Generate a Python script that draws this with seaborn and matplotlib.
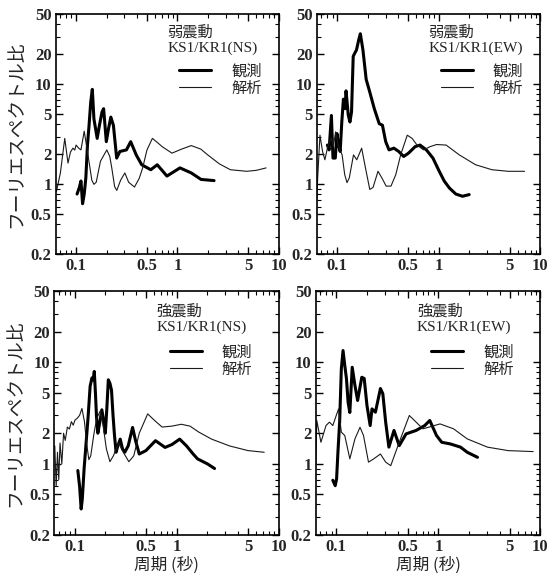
import numpy as np
import pandas as pd
import matplotlib
matplotlib.use('Agg')
import matplotlib.pyplot as plt
import seaborn as sns
from matplotlib.ticker import FixedLocator, FixedFormatter, LogLocator, NullFormatter

# axis ticks
x_ticks = [0.1, 0.5, 1, 5, 10]
x_tick_labels = ['0.1', '0.5', '1', '5', '10']
y_ticks = [0.2, 0.5, 1, 2, 5, 10, 20, 50]
y_tick_labels = ['0.2', '0.5', '1', '2', '5', '10', '20', '50']

panel_titles = ['弱震動\nKS1/KR1(NS)', '弱震動\nKS1/KR1(EW)',
                '強震動\nKS1/KR1(NS)', '強震動\nKS1/KR1(EW)']
series_labels = ['観測', '解析']
x_label = '周期 (秒)'
y_label = 'フーリエスペクトル比'

# weak motion, NS
wns_obs_T = [0.1022, 0.1077, 0.1117, 0.1159, 0.1203, 0.1248, 0.1295, 0.1343, 0.1394, 0.1446,
             0.150, 0.1557, 0.1615, 0.170, 0.1803, 0.187, 0.1987, 0.209, 0.2203, 0.2335,
             0.2515, 0.2706, 0.314, 0.3458, 0.392, 0.444, 0.546, 0.632, 0.788, 1.06,
             1.37, 1.71, 2.3]
wns_obs_A = [0.80, 0.93, 1.08, 0.64, 0.80, 1.16, 2.47, 3.89, 6.6, 8.9,
             4.5, 3.6, 2.88, 3.89, 5.3, 5.7, 2.67, 3.6, 4.7, 3.89,
             1.83, 2.13, 2.21, 2.67, 1.97, 1.57, 1.40, 1.57, 1.21, 1.46,
             1.30, 1.12, 1.09]
wns_ana_T = [0.064, 0.070, 0.0773, 0.0832, 0.088, 0.093, 0.097, 0.100, 0.106, 0.1117,
             0.1203, 0.131, 0.143, 0.150, 0.158, 0.174, 0.201, 0.215, 0.225, 0.240,
             0.252, 0.275, 0.303, 0.33, 0.377, 0.42, 0.454, 0.50, 0.566, 0.64,
             0.707, 0.883, 1.1, 1.37, 1.7, 1.99, 2.6, 3.33, 4.82, 6.0, 7.5]
wns_ana_A = [0.85, 1.3, 2.88, 1.63, 2.1, 2.3, 2.2, 2.47, 2.3, 2.21,
             3.4, 1.97, 1.1, 1.0, 1.05, 1.7, 2.21, 1.9, 1.46, 0.95,
             0.87, 1.1, 1.30, 1.05, 0.94, 1.15, 1.46, 2.2, 2.88, 2.6,
             2.38, 2.05, 2.25, 2.44, 2.25, 1.97, 1.6, 1.40, 1.35, 1.38, 1.46]

# weak motion, EW
wew_obs_T = [0.080, 0.0832, 0.0876, 0.0908, 0.0957, 0.0993, 0.1030, 0.1069, 0.1109, 0.1150,
             0.1194, 0.1221, 0.1285, 0.1334, 0.1383, 0.1436, 0.1489, 0.1546, 0.1640, 0.1689,
             0.1791, 0.1927, 0.2075, 0.2317, 0.2590, 0.2786, 0.300, 0.3235, 0.361, 0.403,
             0.451, 0.503, 0.584, 0.653, 0.754, 0.875, 1.01, 1.13, 1.27, 1.47,
             1.71, 1.99]
wew_obs_A = [2.47, 2.21, 4.88, 1.83, 1.83, 3.22, 2.47, 2.13, 4.2, 7.1,
             5.7, 8.6, 4.9, 4.2, 5.3, 19.0, 20.5, 22.0, 28.7, 32.0,
             22.0, 11.2, 8.6, 5.7, 4.04, 3.9, 2.67, 2.21, 2.3, 2.13,
             1.9, 2.05, 2.38, 2.47, 2.21, 1.83, 1.35, 1.08, 0.92, 0.80,
             0.76, 0.79]
wew_ana_T = [0.063, 0.0642, 0.0676, 0.0717, 0.0756, 0.0813, 0.0876, 0.0915, 0.0964, 0.1022,
             0.1117, 0.1185, 0.1248, 0.1314, 0.1446, 0.1557, 0.174, 0.187, 0.209, 0.225,
             0.252, 0.275, 0.303, 0.338, 0.377, 0.421, 0.489, 0.546, 0.610, 0.707,
             0.82, 0.95, 1.18, 1.59, 2.3, 3.33, 4.82, 6.98]
wew_ana_A = [0.7, 1.16, 3.1, 2.13, 1.76, 2.47, 2.88, 2.38, 3.35, 2.47,
             1.97, 1.25, 1.04, 1.16, 1.97, 1.76, 2.3, 1.57, 0.89, 0.93,
             1.35, 1.16, 0.96, 0.96, 1.25, 1.97, 3.1, 2.88, 2.47, 2.21,
             2.38, 2.5, 2.47, 1.97, 1.57, 1.40, 1.35, 1.35]

# strong motion, NS
sns_obs_T = [0.1076, 0.112, 0.116, 0.119, 0.124, 0.129, 0.136, 0.142, 0.148, 0.152,
             0.156, 0.160, 0.164, 0.169, 0.177, 0.185, 0.192, 0.200, 0.207, 0.214,
             0.222, 0.230, 0.238, 0.246, 0.255, 0.265, 0.280, 0.295, 0.310, 0.335,
             0.370, 0.395, 0.430, 0.500, 0.620, 0.770, 0.900, 1.07, 1.25, 1.45,
             1.60, 2.00, 2.35]
sns_obs_A = [0.86, 0.6, 0.36, 0.45, 0.9, 1.5, 3.0, 5.8, 7.0, 6.7,
             8.1, 5.0, 2.9, 2.0, 2.6, 3.4, 2.7, 2.0, 3.5, 6.7,
             6.2, 5.3, 3.0, 1.9, 1.3, 1.5, 1.75, 1.4, 1.3, 1.5,
             2.28, 1.7, 1.25, 1.35, 1.69, 1.45, 1.55, 1.75, 1.5, 1.25,
             1.12, 1.0, 0.9]
sns_ana_T = [0.064, 0.066, 0.068, 0.070, 0.072, 0.075, 0.078, 0.081, 0.085, 0.089,
             0.093, 0.097, 0.101, 0.106, 0.112, 0.118, 0.125, 0.131, 0.138, 0.144,
             0.155, 0.165, 0.178, 0.190, 0.205, 0.222, 0.240, 0.270, 0.300, 0.340,
             0.380, 0.430, 0.520, 0.600, 0.720, 0.900, 1.11, 1.35, 1.65, 2.2,
             3.3, 5.0, 7.2]
sns_ana_A = [1.5, 0.6, 1.3, 0.7, 1.6, 1.0, 2.0, 1.7, 2.3, 2.2,
             2.6, 2.4, 2.7, 2.8, 3.0, 3.5, 2.6, 1.6, 1.1, 1.2,
             2.0, 2.8, 3.3, 2.4, 1.4, 1.05, 1.2, 1.6, 1.3, 1.05,
             1.2, 2.0, 3.1, 2.7, 2.3, 2.35, 2.45, 2.35, 2.05, 1.75,
             1.5, 1.35, 1.3]

# strong motion, EW
sew_obs_T = [0.0926, 0.0977, 0.1008, 0.1039, 0.108, 0.1122, 0.1166, 0.1212, 0.1259, 0.1308,
             0.1359, 0.1434, 0.1525, 0.162, 0.178, 0.188, 0.200, 0.215, 0.224, 0.242,
             0.271, 0.286, 0.305, 0.328, 0.368, 0.414, 0.483, 0.606, 0.736, 0.825,
             0.96, 1.08, 1.31, 1.65, 1.92, 2.42]
sew_obs_A = [0.69, 0.61, 0.71, 1.30, 2.57, 8.6, 13.0, 9.3, 6.9, 4.0,
             3.2, 8.9, 5.9, 4.2, 7.1, 6.9, 3.75, 2.38, 3.47, 3.22,
             5.5, 4.9, 2.57, 1.46, 2.13, 1.51, 1.97, 2.13, 2.38, 2.67,
             1.90, 1.63, 1.57, 1.46, 1.30, 1.16]
sew_ana_T = [0.063, 0.0645, 0.0708, 0.0794, 0.0858, 0.0926, 0.100, 0.1055, 0.1122, 0.1212,
             0.1359, 0.1525, 0.171, 0.185, 0.207, 0.233, 0.271, 0.305, 0.342, 0.414,
             0.52, 0.606, 0.707, 1.04, 1.41, 1.92, 3.03, 4.82, 8.5]
sew_ana_A = [1.0, 2.67, 1.63, 2.38, 2.57, 2.38, 2.99, 3.47, 2.05, 1.90,
             1.12, 1.76, 2.29, 1.90, 1.04, 1.12, 1.25, 1.04, 0.96, 1.63,
             2.99, 2.57, 2.21, 2.47, 2.21, 1.76, 1.46, 1.35, 1.32]

panels = [
    (wns_obs_T, wns_obs_A, wns_ana_T, wns_ana_A),
    (wew_obs_T, wew_obs_A, wew_ana_T, wew_ana_A),
    (sns_obs_T, sns_obs_A, sns_ana_T, sns_ana_A),
    (sew_obs_T, sew_obs_A, sew_ana_T, sew_ana_A),
]

sns.set_theme(style='ticks')
plt.rcParams['font.family'] = ['Liberation Serif', 'Noto Sans CJK JP']
cjk = ['Noto Sans CJK JP', 'DejaVu Sans']

fig = plt.figure(figsize=(5.52, 5.74), dpi=100)
fig.patch.set_facecolor('white')

positions = [[0.101, 0.557, 0.404, 0.418], [0.574, 0.557, 0.405, 0.418],
             [0.098, 0.068, 0.407, 0.425], [0.572, 0.068, 0.407, 0.425]]
title_pos = [(0.50, 0.955), (0.50, 0.955), (0.455, 0.945), (0.45, 0.945)]
legend_pos = [(0.52, 0.83), (0.52, 0.83), (0.48, 0.815), (0.48, 0.815)]

for i, (oT, oA, aT, aA) in enumerate(panels):
    ax = fig.add_axes(positions[i])
    ax.set_xscale('log')
    ax.set_yscale('log')
    obs = pd.DataFrame({'T': oT, 'A': oA})
    ana = pd.DataFrame({'T': aT, 'A': aA})
    sns.lineplot(data=obs, x='T', y='A', ax=ax, color='black', linewidth=2.2,
                 label=series_labels[0])
    sns.lineplot(data=ana, x='T', y='A', ax=ax, color='#1a1a1a', linewidth=0.8,
                 label=series_labels[1])
    ax.set_xlim(0.063, 10)
    ax.set_ylim(0.2, 50)

    ax.xaxis.set_major_locator(FixedLocator(x_ticks))
    ax.xaxis.set_major_formatter(FixedFormatter(x_tick_labels))
    ax.yaxis.set_major_locator(FixedLocator(y_ticks))
    ax.yaxis.set_major_formatter(FixedFormatter(y_tick_labels))
    ax.xaxis.set_minor_locator(LogLocator(base=10, subs=np.arange(2, 10)))
    ax.yaxis.set_minor_locator(LogLocator(base=10, subs=np.arange(2, 10)))
    ax.xaxis.set_minor_formatter(NullFormatter())
    ax.yaxis.set_minor_formatter(NullFormatter())
    ax.tick_params(which='both', direction='in', top=True, right=True, color='black')
    ax.tick_params(which='major', length=5, width=1.0, labelsize=12, pad=3)
    ax.tick_params(which='minor', length=3, width=0.8)
    for lab in ax.get_xticklabels() + ax.get_yticklabels():
        lab.set_fontweight('bold')
        lab.set_family('Liberation Serif')
    for sp in ax.spines.values():
        sp.set_linewidth(1.2)
        sp.set_color('black')

    ax.set_xlabel(x_label if i >= 2 else '', family=cjk, fontsize=12, labelpad=1)
    ax.set_ylabel(y_label if i % 2 == 0 else '', family=cjk, fontsize=13.5, labelpad=3)

    ax.text(title_pos[i][0], title_pos[i][1], panel_titles[i], transform=ax.transAxes,
            ha='left', va='top', fontsize=11, linespacing=1.15,
            family=['Liberation Serif', 'Noto Sans CJK JP'])
    ax.legend(loc='upper left', bbox_to_anchor=legend_pos[i], frameon=False,
              handlelength=2.1, handletextpad=1.3, labelspacing=0.0, borderpad=0,
              prop={'family': cjk, 'size': 11})

fig.savefig('out.png', dpi=100, facecolor='white')
